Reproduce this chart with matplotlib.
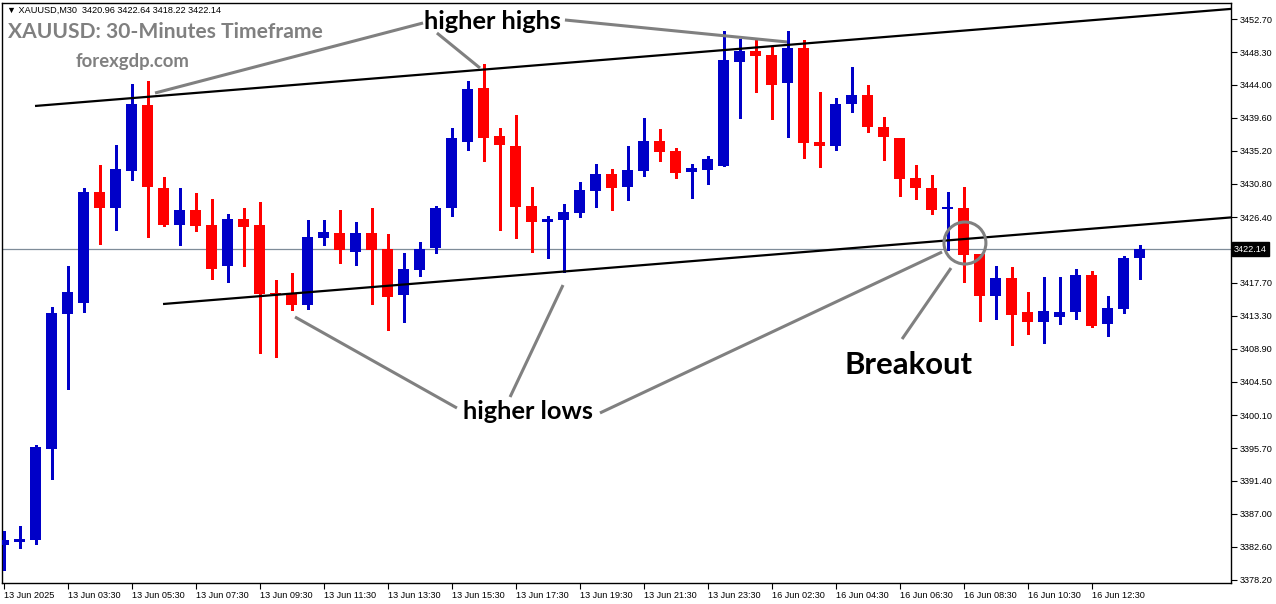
import numpy as np
import matplotlib
matplotlib.use("Agg")
import matplotlib.pyplot as plt
from matplotlib.patches import Ellipse
from matplotlib.transforms import blended_transform_factory

# XAUUSD M30 candles
opens = [3382.85, 3383.24, 3383.51, 3395.60, 3413.53, 3415.00, 3429.73, 3427.60, 3432.51, 3441.28,
         3430.26, 3425.34, 3427.33, 3425.34, 3419.90, 3426.14, 3425.34, 3416.31, 3416.18, 3414.72,
         3423.62, 3424.28, 3421.76, 3424.28, 3422.16, 3416.05, 3419.37, 3422.29, 3427.60, 3436.37,
         3443.54, 3437.16, 3435.83, 3427.87, 3425.74, 3426.01, 3426.94, 3429.86, 3432.12, 3430.39,
         3432.51, 3436.50, 3435.17, 3432.38, 3432.65, 3433.18, 3446.99, 3448.45, 3447.92, 3444.20,
         3448.85, 3436.37, 3435.83, 3441.41, 3442.61, 3438.36, 3436.90, 3431.58, 3430.26, 3427.53,
         3427.60, 3421.49, 3415.91, 3418.30, 3413.79, 3412.46, 3413.13, 3413.79, 3418.70, 3412.20,
         3414.19, 3420.96]
highs = [3384.70, 3385.37, 3396.13, 3414.45, 3419.90, 3430.26, 3433.31, 3435.97, 3444.07, 3444.47,
         3431.72, 3430.26, 3429.59, 3428.80, 3426.80, 3427.60, 3428.40, 3418.04, 3418.97, 3426.01,
         3426.01, 3427.33, 3425.74, 3427.60, 3424.15, 3421.62, 3423.09, 3427.87, 3438.23, 3444.47,
         3446.72, 3438.23, 3439.95, 3430.39, 3426.54, 3428.13, 3431.05, 3433.44, 3432.78, 3435.83,
         3439.55, 3438.09, 3435.57, 3433.44, 3434.51, 3451.11, 3450.04, 3449.91, 3449.11, 3451.11,
         3449.91, 3443.00, 3442.21, 3446.33, 3443.94, 3439.69, 3436.90, 3433.31, 3431.98, 3429.73,
         3430.39, 3421.49, 3419.90, 3419.77, 3416.45, 3418.44, 3418.44, 3419.50, 3419.24, 3415.91,
         3421.22, 3422.64]
lows = [3379.53, 3382.45, 3382.98, 3391.61, 3403.56, 3413.79, 3422.82, 3424.68, 3431.32, 3423.75,
        3425.21, 3422.69, 3424.55, 3418.17, 3417.77, 3419.90, 3408.35, 3407.82, 3414.06, 3414.19,
        3422.69, 3420.30, 3420.03, 3414.85, 3411.40, 3412.46, 3418.57, 3421.62, 3426.54, 3435.30,
        3433.84, 3424.68, 3423.62, 3421.76, 3420.96, 3419.10, 3426.41, 3427.73, 3427.33, 3428.66,
        3431.85, 3433.84, 3431.58, 3428.93, 3430.79, 3433.18, 3439.55, 3443.00, 3439.42, 3437.03,
        3434.24, 3433.05, 3435.30, 3440.35, 3437.69, 3433.97, 3429.20, 3428.80, 3426.80, 3422.02,
        3417.77, 3412.59, 3412.86, 3409.41, 3410.87, 3409.67, 3412.20, 3412.86, 3411.80, 3410.60,
        3413.66, 3418.22]
closes = [3383.51, 3383.64, 3395.86, 3413.66, 3416.45, 3429.73, 3427.60, 3432.78, 3441.41, 3430.39,
          3425.34, 3427.33, 3425.21, 3419.50, 3426.14, 3425.08, 3416.18, 3416.18, 3414.72, 3423.75,
          3424.41, 3422.02, 3424.28, 3422.02, 3415.78, 3419.50, 3422.16, 3427.60, 3436.90, 3443.40,
          3436.90, 3435.97, 3427.73, 3425.74, 3426.14, 3427.07, 3429.99, 3432.12, 3430.26, 3432.65,
          3436.50, 3435.04, 3432.25, 3432.91, 3434.11, 3447.26, 3448.45, 3447.79, 3443.94, 3448.85,
          3436.23, 3435.83, 3441.41, 3442.61, 3438.36, 3437.03, 3431.45, 3430.26, 3427.33, 3427.67,
          3421.36, 3415.91, 3418.30, 3413.39, 3412.46, 3413.92, 3413.79, 3418.70, 3411.93, 3414.32,
          3420.96, 3422.14]

time_tick_idx = list(range(0, 72, 4))
time_tick_labels = ["13 Jun 2025", "13 Jun 03:30", "13 Jun 05:30", "13 Jun 07:30", "13 Jun 09:30",
                    "13 Jun 11:30", "13 Jun 13:30", "13 Jun 15:30", "13 Jun 17:30", "13 Jun 19:30",
                    "13 Jun 21:30", "13 Jun 23:30", "16 Jun 02:30", "16 Jun 04:30", "16 Jun 06:30",
                    "16 Jun 08:30", "16 Jun 10:30", "16 Jun 12:30"]
price_ticks = [3452.70, 3448.30, 3444.00, 3439.60, 3435.20, 3430.80, 3426.40, 3417.70, 3413.30,
               3408.90, 3404.50, 3400.10, 3395.70, 3391.40, 3387.00, 3382.60, 3378.20]
last_price = 3422.14

# trendlines: (bar index, price) endpoints
upper_trend = [(1.97, 3441.15), (76.72, 3454.04)]
lower_trend = [(9.97, 3414.85), (76.72, 3426.35)]

# grey pointer lines from the labels
pointers = [
    [(26.22, 3452.17), (9.47, 3442.87)],
    [(27.09, 3450.84), (29.78, 3446.19)],
    [(35.09, 3452.57), (48.97, 3449.65)],
    [(18.22, 3413.13), (28.34, 3401.04)],
    [(31.66, 3402.50), (34.97, 3417.37)],
    [(37.28, 3400.38), (58.66, 3421.76)],
    [(56.16, 3410.20), (59.22, 3419.63)],
]

W, H = 1276, 604
BLUE = "#0000C8"
RED = "#FF0000"
GREY = "#808080"

fig = plt.figure(figsize=(W / 100, H / 100), dpi=100)
fig.patch.set_facecolor("white")
ax = fig.add_axes([2 / W, (H - 583) / H, 1229 / W, 580 / H])

x = np.arange(len(opens))
o = np.array(opens)
c = np.array(closes)
up = c >= o
cols = np.where(up, BLUE, RED)

ax.vlines(x, lows, highs, colors=cols, linewidth=1.0, antialiased=False, zorder=3)
body_lo = np.minimum(o, c)
body_h = np.maximum(np.abs(c - o), 0.13)
ax.bar(x, body_h, bottom=body_lo, width=0.69, color=cols, linewidth=0, antialiased=False, zorder=4)

# current price line
ax.axhline(last_price, color="#7F8C99", lw=0.9, zorder=2)

# trendlines
for seg in (upper_trend, lower_trend):
    ax.plot([p[0] for p in seg], [p[1] for p in seg], color="black", lw=1.6, zorder=5,
            solid_capstyle="butt")

for seg in pointers:
    ax.plot([p[0] for p in seg], [p[1] for p in seg], color=GREY, lw=2.2, zorder=6,
            solid_capstyle="butt")

ax.add_patch(Ellipse((60.09, 3422.95), width=2.62, height=5.58, fill=False,
                     edgecolor=GREY, lw=2.2, zorder=7))

ax.set_xlim(-0.094, -0.094 + 1229 / 16)
ax.set_ylim(3377.80, 3454.825)

ax.yaxis.tick_right()
ax.set_yticks(price_ticks)
ax.set_yticklabels([f"{v:.2f}" for v in price_ticks])
ax.set_xticks(time_tick_idx)
ax.set_xticklabels(time_tick_labels, ha="left")
ax.tick_params(axis="both", direction="out", length=4, width=0.8, colors="black",
               labelsize=6.6, pad=2)
for lab in ax.get_xticklabels() + ax.get_yticklabels():
    lab.set_family("Liberation Sans")
for sp in ax.spines.values():
    sp.set_color("black")
    sp.set_linewidth(1.0)

trans = blended_transform_factory(ax.transAxes, ax.transData)
ax.text(1.0 + 3 / 1229, last_price, f"{last_price:.2f}", transform=trans, ha="left", va="center",
        color="white", fontsize=6.6, family="Liberation Sans",
        bbox=dict(boxstyle="square,pad=0.25", fc="black", ec="black"), zorder=10, clip_on=False)

# text annotations
def fpos(px, py):
    return px / W, 1 - py / H

fig.text(*fpos(7, 10), "\u25bc XAUUSD,M30  3420.96 3422.64 3418.22 3422.14", fontsize=6.6,
         family=["Liberation Sans", "DejaVu Sans"], va="center", ha="left")
fig.text(*fpos(8, 32), "XAUUSD: 30-Minutes Timeframe", fontsize=15.1, family="Lato",
         weight="bold", color=GREY, va="center", ha="left")
fig.text(*fpos(76, 62), "forexgdp.com", fontsize=13.3, family="Lato", weight="bold",
         color=GREY, va="center", ha="left")

ax.text(30.59, 3452.43, "higher highs", fontsize=18.3, family="Lato", weight="bold",
        ha="center", va="center", zorder=8)
ax.text(32.78, 3400.64, "higher lows", fontsize=18.3, family="Lato", weight="bold",
        ha="center", va="center", zorder=8)
ax.text(56.59, 3406.75, "Breakout", fontsize=22.4, family="Lato", weight="bold",
        ha="center", va="center", zorder=8)

fig.savefig("out.png", dpi=100)
